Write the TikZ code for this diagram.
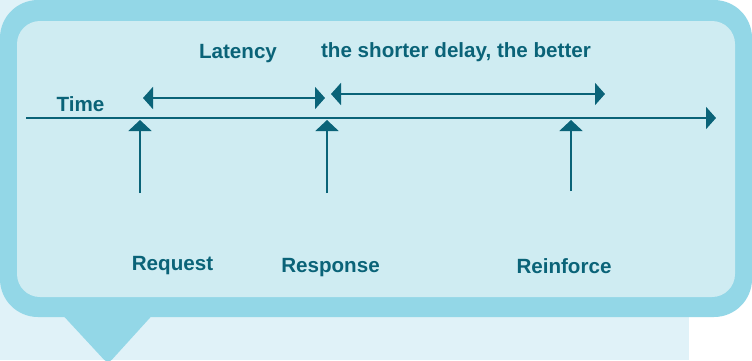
\documentclass[tikz,border=0pt]{standalone}
\usepackage{fontspec}
\setmainfont{Liberation Sans}
\usetikzlibrary{arrows.meta}
\definecolor{bgpale}{HTML}{E0F2F8}
\definecolor{outerblue}{HTML}{93D7E7}
\definecolor{innerblue}{HTML}{CFECF2}
\definecolor{ink}{HTML}{0A6378}
\tikzset{
  lbl/.style={text=ink, font=\fontsize{20.6}{24}\selectfont\bfseries, inner sep=0pt, anchor=base},
  conn/.style={draw=ink, line width=2pt},
  tipR/.style={-{Triangle[length=10pt,width=22pt]}},
  tipLR/.style={{Triangle[length=10pt,width=22pt]}-{Triangle[length=10pt,width=22pt]}},
  tipU/.style={-{Triangle[length=11pt,width=23pt]}}
}
\begin{document}
\begin{tikzpicture}[x=1pt,y=-1pt]
\useasboundingbox (0,0) rectangle (752,360);
% background
\fill[white] (0,0) rectangle (752,360);
\fill[bgpale] (0,0) rectangle (689,360);
% speech bubble
\fill[outerblue, rounded corners=6pt] (58,310) -- (157,310) -- (108,364) -- cycle;
\fill[outerblue, rounded corners=38pt] (0,0) rectangle (752,317);
\fill[innerblue, rounded corners=23pt] (17,21) rectangle (735,297);
% labels
\node[lbl] (lat) at (238,58) {Latency};
\node[lbl] (short) at (456,57) {the shorter delay, the better};
\node[lbl] (time) at (80.5,111) {Time};
\node[lbl] (req) at (172.5,270) {Request};
\node[lbl] (resp) at (330.5,272) {Response};
\node[lbl] (reinf) at (564,273) {Reinforce};
% coordinates
\coordinate (t0) at (26,118);
\coordinate (t1) at (716,118);
\coordinate (l0) at (143,98);
\coordinate (l1) at (325,98);
\coordinate (s0) at (331,94);
\coordinate (s1) at (605,94);
\coordinate (r0) at (140,193);
\coordinate (r1) at (140,120);
\coordinate (p0) at (327,193);
\coordinate (p1) at (327,120);
\coordinate (f0) at (571,191);
\coordinate (f1) at (571,120);
% connectors
\draw[conn, tipR] (t0) -- (t1);
\draw[conn, tipLR] (l0) -- (l1);
\draw[conn, tipLR] (s0) -- (s1);
\draw[conn, tipU] (r0) -- (r1);
\draw[conn, tipU] (p0) -- (p1);
\draw[conn, tipU] (f0) -- (f1);
\end{tikzpicture}
\end{document}
